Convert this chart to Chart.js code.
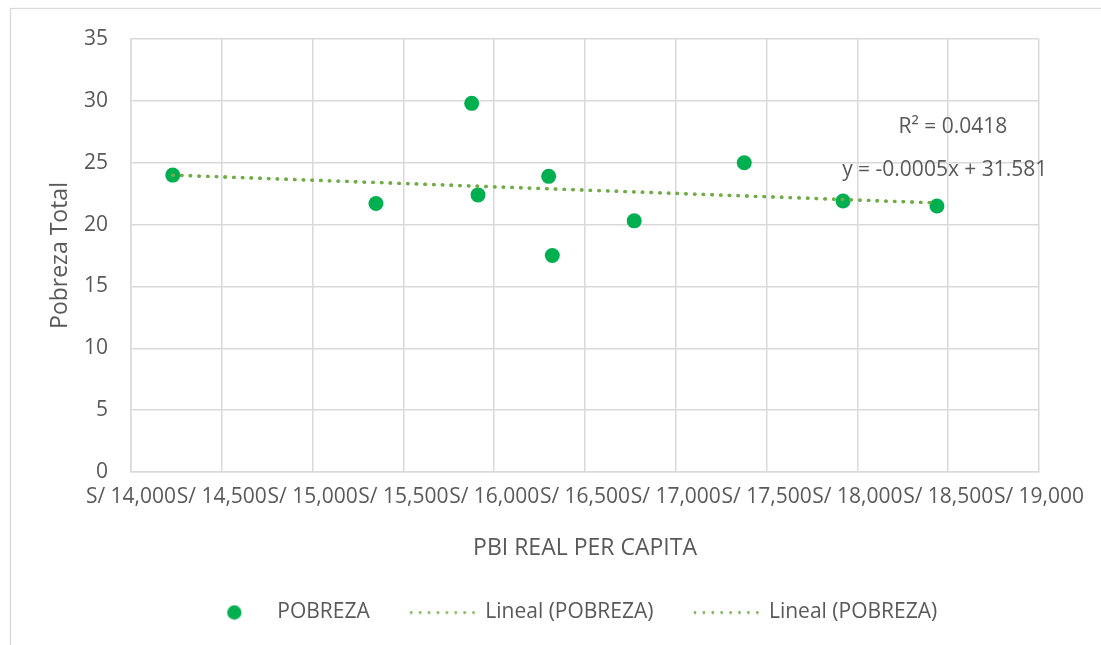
<!DOCTYPE html>
<html>
<head>
<meta charset="utf-8">
<script src="https://cdn.jsdelivr.net/npm/chart.js@4.4.1/dist/chart.umd.min.js"></script>
<style>
    html, body { margin: 0; padding: 0; background: #fff; }
    #wrap { width: 1101px; height: 645px; }
</style>
</head>
<body>
<div id="wrap"><canvas id="chart-pobreza" width="1101" height="645"></canvas></div>
<script>
(function () {
    "use strict";

    // values
    const pbiPerCapita = [14230, 15349, 15876, 15911, 16300, 16320, 16771, 17377, 17921, 18438];
    const pobrezaTotal = [24.0, 21.7, 29.8, 22.4, 23.9, 17.5, 20.3, 25.0, 21.9, 21.5];
    const trendX = [14230, 18438];
    const trendY = [24.0, 21.75];
    const xTicks = [14000, 14500, 15000, 15500, 16000, 16500, 17000, 17500, 18000, 18500, 19000];
    const yTicks = [0, 5, 10, 15, 20, 25, 30, 35];
    const seriesNames = ["POBREZA", "Lineal (POBREZA)", "Lineal (POBREZA)"];
    const trendNotes = ["R\u00b2 = 0.0418", "y = -0.0005x + 31.581"];

    const TEXT = "#595959";
    const GRID = "#d9d9d9";
    const POINT_GREEN = "#00b050";
    const TREND_GREEN = "#70ad47";
    const FONT = "'Open Sans', sans-serif";

    // where the equation texts sit, in axis units
    const noteSpots = [[18526, 27.9], [18481, 24.45]];

    function dotImage() {
        const c = document.createElement("canvas");
        c.width = 16;
        c.height = 16;
        const g = c.getContext("2d");
        g.fillStyle = POINT_GREEN;
        g.beginPath();
        g.arc(8, 8, 7.2, 0, Math.PI * 2);
        g.fill();
        return c;
    }

    function dottedImage() {
        const c = document.createElement("canvas");
        c.width = 66;
        c.height = 4;
        const g = c.getContext("2d");
        g.fillStyle = TREND_GREEN;
        for (let i = 0; i < 8; i++) {
            g.beginPath();
            g.arc(2 + i * 8.9, 2, 1.4, 0, Math.PI * 2);
            g.fill();
        }
        return c;
    }

    const legendImages = [dotImage(), dottedImage(), dottedImage()];

    const frame = {
        id: "frame",
        beforeDraw: function (chart) {
            const ctx = chart.ctx;
            ctx.save();
            ctx.fillStyle = "#fff";
            ctx.fillRect(0, 0, chart.width, chart.height);
            ctx.strokeStyle = GRID;
            ctx.lineWidth = 1.3;
            ctx.strokeRect(10.5, 8.5, 1300, 900);
            ctx.restore();
        },
    };

    const notes = {
        id: "notes",
        afterDatasetsDraw: function (chart) {
            const ctx = chart.ctx;
            const x = chart.scales.x;
            const y = chart.scales.y;
            ctx.save();
            ctx.font = "21px " + FONT;
            ctx.fillStyle = TEXT;
            ctx.textAlign = "center";
            ctx.textBaseline = "middle";
            noteSpots.forEach(function (p, i) {
                ctx.fillText(trendNotes[i], x.getPixelForValue(p[0]), y.getPixelForValue(p[1]));
            });
            ctx.restore();
        },
    };

    // legend is centred under the whole chart in the original, not the plot
    const legendShift = {
        id: "legendShift",
        afterLayout: function (chart) {
            chart.legend.left += 45;
            chart.legend.right += 45;
        },
    };

    const trendPoints = trendX.map(function (v, i) { return { x: v, y: trendY[i] }; });

    const trendStyle = {
        showLine: true,
        borderColor: TREND_GREEN,
        backgroundColor: TREND_GREEN,
        borderWidth: 3.3,
        borderDash: [0.5, 8.2],
        borderCapStyle: "round",
        pointRadius: 0,
        pointHoverRadius: 0,
        fill: false,
        order: 0,
    };

    let ctx = document.getElementById("chart-pobreza").getContext("2d");
    let pobrezaChart = new Chart(ctx, {
        type: "scatter",
        data: {
            datasets: [
                {
                    label: seriesNames[0],
                    data: pbiPerCapita.map(function (v, i) { return { x: v, y: pobrezaTotal[i] }; }),
                    backgroundColor: POINT_GREEN,
                    borderWidth: 0,
                    pointRadius: 7.5,
                    pointHoverRadius: 7.5,
                    order: 2,
                },
                Object.assign({ label: seriesNames[1], data: trendPoints }, trendStyle),
                Object.assign({ label: seriesNames[2], data: trendPoints }, trendStyle),
            ],
        },
        options: {
            responsive: false,
            animation: false,
            devicePixelRatio: 1,
            layout: {
                padding: { left: 10, top: 39, right: 62, bottom: 12 },
            },
            scales: {
                x: {
                    type: "linear",
                    min: xTicks[0],
                    max: xTicks[xTicks.length - 1],
                    afterBuildTicks: function (scale) {
                        scale.ticks = xTicks.map(function (v) { return { value: v }; });
                    },
                    afterFit: function (scale) {
                        scale.height = 90;
                        scale.paddingLeft = 0;
                        scale.paddingRight = 0;
                    },
                    ticks: {
                        autoSkip: false,
                        maxRotation: 0,
                        minRotation: 0,
                        padding: 12,
                        color: TEXT,
                        font: { family: FONT, size: 21 },
                        callback: function (v) {
                            return "S/ " + Number(v).toLocaleString("en-US");
                        },
                    },
                    grid: { color: GRID, lineWidth: 1.5, drawTicks: false },
                    border: { color: GRID, width: 1.5 },
                    title: {
                        display: true,
                        text: "PBI REAL PER CAPITA",
                        color: TEXT,
                        font: { family: FONT, size: 23 },
                        padding: { top: 0, bottom: 0 },
                    },
                },
                y: {
                    min: yTicks[0],
                    max: yTicks[yTicks.length - 1],
                    afterBuildTicks: function (scale) {
                        scale.ticks = yTicks.map(function (v) { return { value: v }; });
                    },
                    afterFit: function (scale) {
                        scale.width = 121;
                        scale.paddingTop = 0;
                        scale.paddingBottom = 0;
                    },
                    ticks: {
                        padding: 23,
                        color: TEXT,
                        font: { family: FONT, size: 21 },
                    },
                    grid: { color: GRID, lineWidth: 1.5, drawTicks: false },
                    border: { color: GRID, width: 1.5 },
                    title: {
                        display: true,
                        text: "Pobreza Total",
                        color: TEXT,
                        font: { family: FONT, size: 23 },
                        padding: { top: 37, bottom: 0 },
                    },
                },
            },
            plugins: {
                legend: {
                    position: "bottom",
                    labels: {
                        usePointStyle: true,
                        pointStyleWidth: 65,
                        padding: 40,
                        color: TEXT,
                        font: { family: FONT, size: 21 },
                        generateLabels: function (chart) {
                            return chart.data.datasets.map(function (ds, i) {
                                return {
                                    text: ds.label,
                                    pointStyle: legendImages[i],
                                    fillStyle: ds.backgroundColor,
                                    strokeStyle: ds.backgroundColor,
                                    lineWidth: 0,
                                    hidden: false,
                                    datasetIndex: i,
                                    fontColor: TEXT,
                                };
                            });
                        },
                    },
                },
                tooltip: { enabled: false },
            },
        },
        plugins: [frame, notes, legendShift],
    });
})();
</script>
</body>
</html>
